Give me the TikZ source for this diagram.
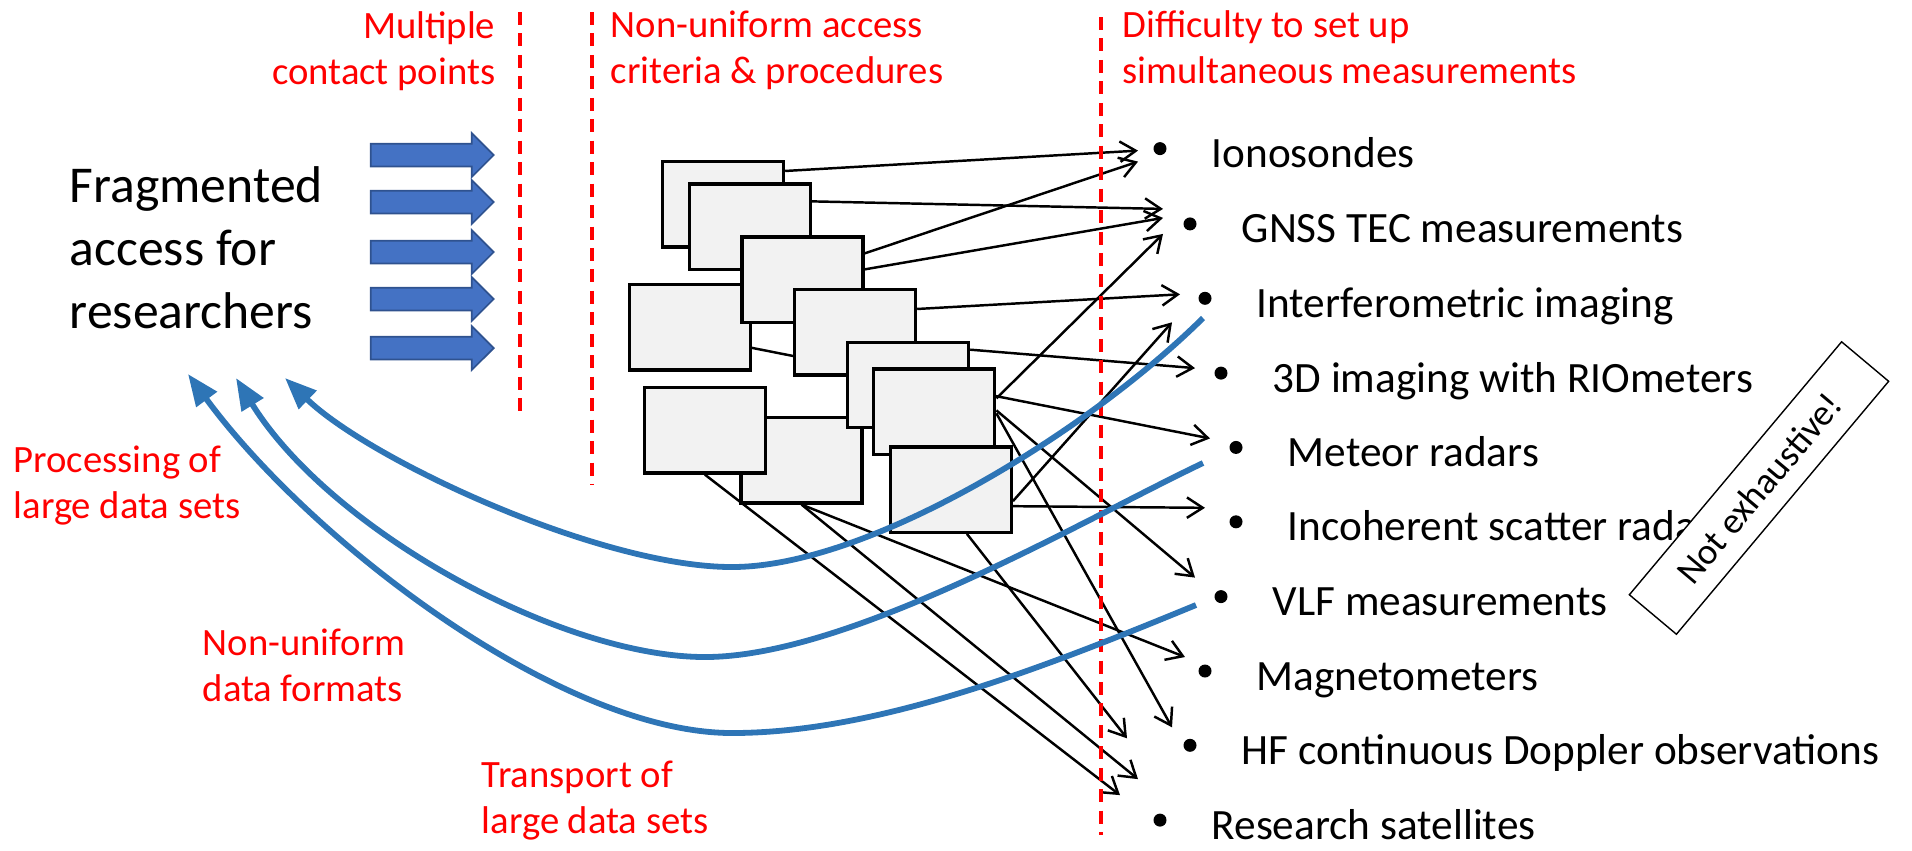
\documentclass[tikz,border=0pt]{standalone}
\usepackage{fontspec}
\setmainfont{Carlito}
\usetikzlibrary{
    arrows.meta,
    positioning,
    shapes.arrows
}
\definecolor{boxgray}{HTML}{F2F2F2}
\definecolor{curveblue}{HTML}{2E75B6}
\definecolor{arrowblue}{HTML}{4472C4}
\definecolor{arrowedge}{HTML}{2F528F}
\pgfdeclarelayer{background}
\pgfsetlayers{background,main}
\tikzset{
    every picture/.style = {
        > = {Straight Barb[length = 4.5pt, width = 5.8pt]}
    },
    redlabel/.style = {
        text = red,
        inner sep = 0pt,
        font = \fontsize{11}{13.2}\selectfont
    },
    listitem/.style = {
        inner sep = 0pt,
        font = \fontsize{12.3}{14}\selectfont
    },
    listdot/.style = {
        circle,
        fill = black,
        inner sep = 0pt,
        minimum size = 0.13cm
    },
    source/.style = {
        draw,
        line width = 0.95pt,
        fill = boxgray,
        inner sep = 0pt,
        minimum width = 1.21cm,
        minimum height = 0.853cm
    },
    contact/.style = {
        single arrow,
        draw = arrowedge,
        fill = arrowblue,
        line width = 0.5pt,
        inner xsep = 0pt,
        inner ysep = 0.105cm,
        single arrow head extend = 0.105cm,
        single arrow tip angle = 90,
        minimum height = 1.23cm
    },
    link/.style = {->, line width = 0.7pt},
    divider/.style = {red, line width = 0.9pt, dash pattern = on 3.7pt off 2.4pt},
    hurdle/.style = {-{Triangle[length = 9pt, width = 7pt]}, line width = 1.65pt, curveblue}
}

\begin{document}
\begin{tikzpicture}[x = 0.01cm, y = -0.01cm]
    \useasboundingbox (0, 0) rectangle (1912, 850);

    % headings over the columns (base = last line)
    \node[redlabel, align = right, anchor = base east] (contacthead) at (496, 84.6) {Multiple\\contact points};
    \node[redlabel, align = left, anchor = base west] (criteriahead) at (610, 83.6) {Non-uniform access\\criteria \& procedures};
    \node[redlabel, align = left, anchor = base west] (simulhead) at (1122, 83.6) {Difficulty to set up\\simultaneous measurements};

    \draw[divider] (520, 12) -- (520, 415);
    \draw[divider] (592, 12) -- (592, 485);
    \draw[divider] (1101, 17) -- (1101, 835);

    \node[align = left, anchor = base west, inner sep = 0pt, font = \fontsize{14.7}{17.9}\selectfont] (fragmented) at (69, 328) {Fragmented\\access for\\researchers};

    \node[contact] (contact1) at (426.5, 155) {};
    \node[contact] (contact2) at (426.5, 202) {};
    \node[contact] (contact3) at (426.5, 252) {};
    \node[contact] (contact4) at (426.5, 299) {};
    \node[contact] (contact5) at (426.5, 348) {};

    % data sources
    \node[source] (b1) at (723, 204.3) {};
    \node[source] (b2) at (749.7, 226.7) {};
    \node[source] (b4) at (689.8, 327.2) {};
    \node[source] (b3) at (802.5, 279.7) {};
    \node[source] (b5) at (855, 332.3) {};
    \node[source] (b9) at (801.5, 460.2) {};
    \node[source] (b6) at (908, 385) {};
    \node[source] (b8) at (704.8, 430.2) {};
    \node[source] (b7) at (934.2, 411.7) {};
    \node[source] (b10) at (950.7, 489.5) {};

    % measurement list
    \node[listdot] (d1) at (1160, 148.6) {};
    \node[listdot] (d2) at (1190, 223.9) {};
    \node[listdot] (d3) at (1205, 298.3) {};
    \node[listdot] (d4) at (1221, 373.1) {};
    \node[listdot] (d5) at (1236, 447.4) {};
    \node[listdot] (d6) at (1236, 521.8) {};
    \node[listdot] (d7) at (1221, 596.6) {};
    \node[listdot] (d8) at (1205, 671) {};
    \node[listdot] (d9) at (1190, 745.3) {};
    \node[listdot] (d10) at (1160, 820.1) {};

    \node[listitem, below right = 0.19cm and 0.51cm of d1.center, anchor = base west] (t1) {Ionosondes};
    \node[listitem, below right = 0.19cm and 0.51cm of d2.center, anchor = base west] (t2) {GNSS TEC measurements};
    \node[listitem, below right = 0.19cm and 0.51cm of d3.center, anchor = base west] (t3) {Interferometric imaging};
    \node[listitem, below right = 0.19cm and 0.51cm of d4.center, anchor = base west] (t4) {3D imaging with RIOmeters};
    \node[listitem, below right = 0.19cm and 0.51cm of d5.center, anchor = base west] (t5) {Meteor radars};
    \node[listitem, below right = 0.19cm and 0.51cm of d6.center, anchor = base west] (t6) {Incoherent scatter radars};
    \node[listitem, below right = 0.19cm and 0.51cm of d7.center, anchor = base west] (t7) {VLF measurements};
    \node[listitem, below right = 0.19cm and 0.51cm of d8.center, anchor = base west] (t8) {Magnetometers};
    \node[listitem, below right = 0.19cm and 0.51cm of d9.center, anchor = base west] (t9) {HF continuous Doppler observations};
    \node[listitem, below right = 0.19cm and 0.51cm of d10.center, anchor = base west] (t10) {Research satellites};

    \node[draw, fill = white, line width = 0.4pt, rotate = 50, minimum width = 3.3cm, minimum height = 0.614cm, font = \fontsize{10.5}{12}\selectfont] (notall) at (1759, 488) {Not exhaustive!};

    % links from the sources, behind the boxes
    \begin{pgfonlayer}{background}
        \draw[link] ([shift = {(0, 11)}]b1.north east) -- ([shift = {(-22, 2)}]d1.center);
        \draw[link] ([shift = {(0, 18)}]b3.north east) -- ([shift = {(-22, 13)}]d1.center);
        \draw[link] ([shift = {(0, 19)}]b2.north east) -- ([shift = {(-27, -15)}]d2.center);
        \draw[link] ([shift = {(0, 34)}]b3.north east) -- ([shift = {(-27, -6)}]d2.center);
        \draw[link] ([shift = {(0, 31)}]b7.north east) -- ([shift = {(-27, 10)}]d2.center);
        \draw[link] ([shift = {(0, 21)}]b5.north east) -- ([shift = {(-25, -4)}]d3.center);
        \draw[link] ([shift = {(0, 56)}]b10.north east) -- ([shift = {(-33, 24)}]d3.center);
        \draw[link] ([shift = {(0, 9)}]b6.north east) -- ([shift = {(-26, -5)}]d4.center);
        \draw[link] ([shift = {(0, 65)}]b4.north east) -- ([shift = {(-26, -9)}]d5.center);
        \draw[link] ([shift = {(0, 61)}]b10.north east) -- ([shift = {(-31, -14)}]d6.center);
        \draw[link] ([shift = {(0, 43)}]b7.north east) -- ([shift = {(-26, -19)}]d7.center);
        \draw[link] (b9.south) -- ([shift = {(-20, -14)}]d8.center);
        \draw[link] ([shift = {(0, 46)}]b7.north east) -- ([shift = {(-18, -18)}]d9.center);
        \draw[link] ([shift = {(-46, 0)}]b10.south east) -- ([shift = {(-63, -7)}]d9.center);
        \draw[link] (b9.south) -- ([shift = {(-22, -41)}]d10.center);
        \draw[link] (b8.south) -- ([shift = {(-40, -25)}]d10.center);
    \end{pgfonlayer}

    % obstacles back to the researchers
    \coordinate (proc start) at (1203, 318);
    \coordinate (proc end) at (285, 378);
    \coordinate (form start) at (1203, 463);
    \coordinate (form end) at (236, 378);
    \coordinate (trans start) at (1196, 605);
    \coordinate (trans end) at (188, 374);
    \draw[hurdle] (proc start) .. controls (1090, 430) and (870, 567) .. (732, 567) .. controls (600, 567) and (370, 460) .. (proc end);
    \draw[hurdle] (form start) .. controls (1083, 520) and (850, 657) .. (705, 657) .. controls (560, 657) and (330, 530) .. (form end);
    \draw[hurdle] (trans start) .. controls (1050, 665) and (880, 733) .. (732, 733) .. controls (560, 733) and (310, 540) .. (trans end);

    \node[redlabel, align = left, anchor = base west] (proclabel) at (13, 518.6) {Processing of\\large data sets};
    \node[redlabel, align = left, anchor = base west] (formlabel) at (202, 701.6) {Non-uniform\\data formats};
    \node[redlabel, align = left, anchor = base west] (translabel) at (481, 833.6) {Transport of\\large data sets};
\end{tikzpicture}
\end{document}
